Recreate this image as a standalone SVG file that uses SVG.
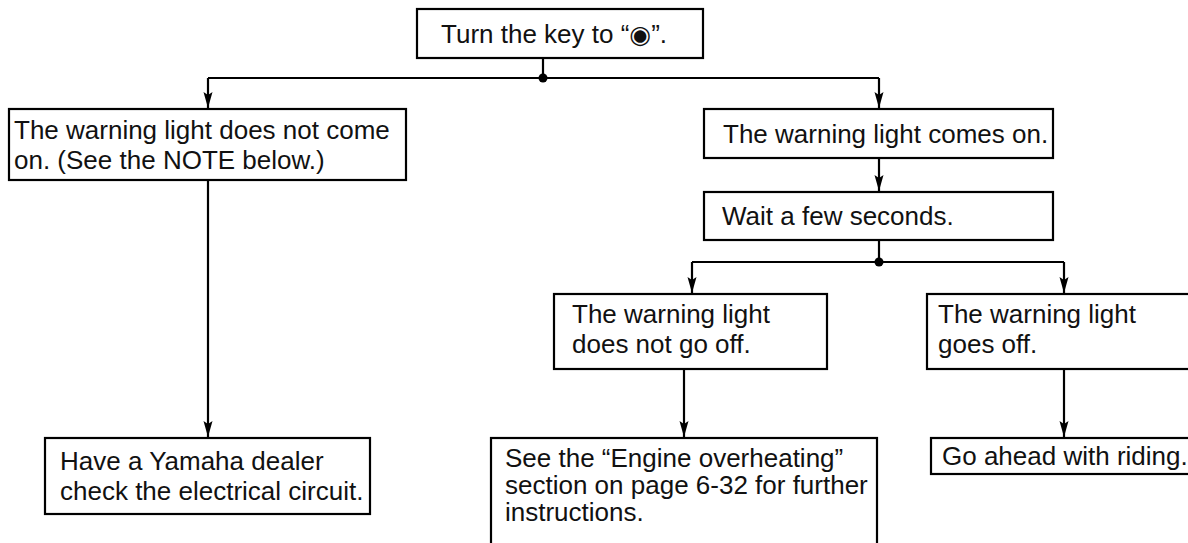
<svg xmlns="http://www.w3.org/2000/svg" width="1188" height="543" viewBox="0 0 1188 543">
<style>
.box{fill:#fff;stroke:#000;stroke-width:2.2}
.t{font-family:"Liberation Sans",Arial,sans-serif;font-size:26px;fill:#111}
.ln{fill:none;stroke:#000;stroke-width:2.2}
.sym{font-family:"DejaVu Sans",sans-serif;font-size:25px}
</style>
<defs>
<marker id="ah" markerWidth="16" markerHeight="10" refX="16" refY="5" orient="auto" markerUnits="userSpaceOnUse" viewBox="0 0 16 10">
<path d="M0,0.5 L3,5 L0,9.5 L16,5 Z" fill="#000"/>
</marker>
</defs>
<rect width="1188" height="543" fill="#fff"/>
<g id="connectors">
<path class="ln" d="M543,58 V78"/>
<path class="ln" d="M208,78 H879"/>
<circle cx="543" cy="78" r="4.5" fill="#000"/>
<path class="ln" d="M208,78 V108" marker-end="url(#ah)"/>
<path class="ln" d="M879,78 V108" marker-end="url(#ah)"/>
<path class="ln" d="M208,180 V437" marker-end="url(#ah)"/>
<path class="ln" d="M879,158 V191" marker-end="url(#ah)"/>
<path class="ln" d="M879,240 V262"/>
<path class="ln" d="M692,262 H1064"/>
<circle cx="879" cy="262" r="4.5" fill="#000"/>
<path class="ln" d="M692,262 V293" marker-end="url(#ah)"/>
<path class="ln" d="M1064,262 V293" marker-end="url(#ah)"/>
<path class="ln" d="M684,369 V437" marker-end="url(#ah)"/>
<path class="ln" d="M1064,369 V437" marker-end="url(#ah)"/>
</g>
<g id="n-key">
<rect class="box" x="417" y="9" width="286" height="49"/>
<text class="t" x="441" y="43">Turn the key to “<tspan class="sym">◉</tspan>”.</text>
</g>
<g id="n-not-come-on">
<rect class="box" x="9" y="109" width="397" height="71"/>
<text class="t" x="14" y="139">The warning light does not come</text>
<text class="t" x="14" y="169">on. (See the NOTE below.)</text>
</g>
<g id="n-comes-on">
<rect class="box" x="704" y="109" width="349" height="49"/>
<text class="t" x="723" y="143">The warning light comes on.</text>
</g>
<g id="n-wait">
<rect class="box" x="704" y="192" width="349" height="48"/>
<text class="t" x="722" y="225">Wait a few seconds.</text>
</g>
<g id="n-not-off">
<rect class="box" x="554" y="294" width="273" height="75"/>
<text class="t" x="572" y="323">The warning light</text>
<text class="t" x="572" y="353">does not go off.</text>
</g>
<g id="n-off">
<rect class="box" x="927" y="294" width="280" height="75"/>
<text class="t" x="938" y="323">The warning light</text>
<text class="t" x="938" y="353">goes off.</text>
</g>
<g id="n-dealer">
<rect class="box" x="45" y="438" width="325" height="76"/>
<text class="t" x="60" y="470">Have a Yamaha dealer</text>
<text class="t" x="60" y="500">check the electrical circuit.</text>
</g>
<g id="n-overheat">
<rect class="box" x="491" y="438" width="386" height="120"/>
<text class="t" x="505" y="467">See the “Engine overheating”</text>
<text class="t" x="505" y="494">section on page 6-32 for further</text>
<text class="t" x="505" y="521">instructions.</text>
</g>
<g id="n-ride">
<rect class="box" x="931" y="438" width="270" height="36"/>
<text class="t" x="942" y="465">Go ahead with riding.</text>
</g>
</svg>
